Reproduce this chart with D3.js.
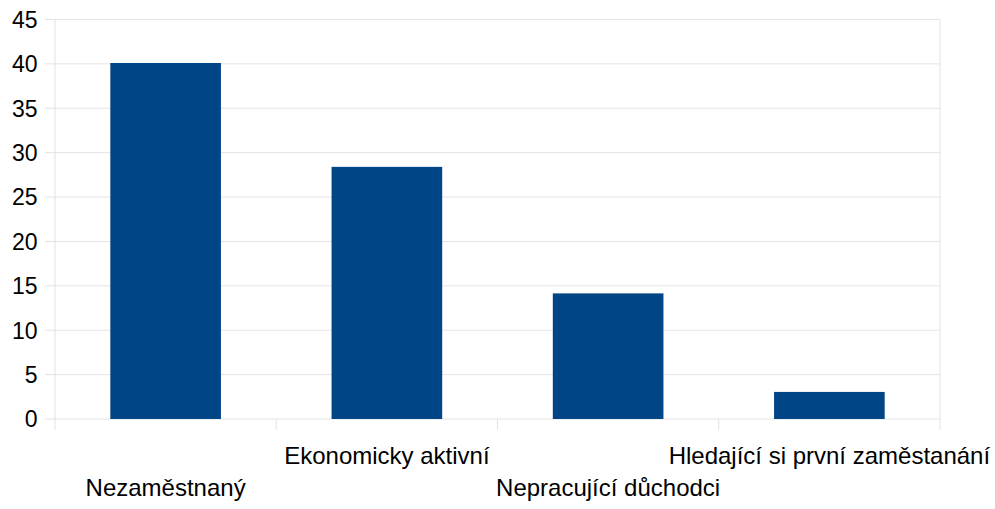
<!DOCTYPE html>
<html><head><meta charset="utf-8">
<script src="https://cdn.jsdelivr.net/npm/d3@7"></script>
<style>body{margin:0;background:#fff}svg{display:block}text{font-family:"Liberation Sans",Arial,sans-serif;fill:#000}</style>
</head><body>
<svg id="c" width="995" height="509"></svg>
<script>
const categories = ["Nezaměstnaný","Ekonomicky aktivní","Nepracující důchodci","Hledající si první zaměstanání"];
const values = [40.1, 28.4, 14.15, 3.05];
const yTicks = [0,5,10,15,20,25,30,35,40,45];

const svg = d3.select("#c");
const L=55, R=940, T=19.5, B=419;
const x = d3.scaleBand().domain(categories).range([L,R]).paddingInner(0.5).paddingOuter(0.25);
const xb = d3.scaleBand().domain(categories).range([L,R]);
const y = d3.scaleLinear().domain([0,45]).range([B,T]);

// horizontal gridlines
svg.append("g").selectAll("line").data(yTicks).join("line")
  .attr("x1",L-10).attr("x2",R).attr("y1",d=>y(d)).attr("y2",d=>y(d))
  .attr("stroke","#e3e3e3").attr("stroke-width",1);
// y labels
svg.append("g").selectAll("text").data(yTicks).join("text")
  .attr("x",37.5).attr("y",d=>y(d)).attr("dy","0.36em").attr("text-anchor","end")
  .attr("font-size",23).text(d=>d);
// vertical lines: axis, category separators, right edge
const bounds = categories.map(c=>xb(c)).concat([R]);
svg.append("g").selectAll("line").data(bounds).join("line")
  .attr("x1",d=>d).attr("x2",d=>d)
  .attr("y1",(d,i)=> (i===0||i===bounds.length-1)? T : B)
  .attr("y2",B+11)
  .attr("stroke","#e3e3e3").attr("stroke-width",1);
// bars
svg.append("g").selectAll("rect").data(values).join("rect")
  .attr("x",(d,i)=>x(categories[i])).attr("width",x.bandwidth())
  .attr("y",d=>y(d)).attr("height",d=>B-y(d)).attr("fill","#004586");
// x labels (staggered)
svg.append("g").selectAll("text").data(categories).join("text")
  .attr("x",d=>xb(d)+xb.bandwidth()/2)
  .attr("y",(d,i)=> i%2===0 ? 496 : 464)
  .attr("text-anchor","middle").attr("font-size",24).text(d=>d);
</script>
</body></html>
